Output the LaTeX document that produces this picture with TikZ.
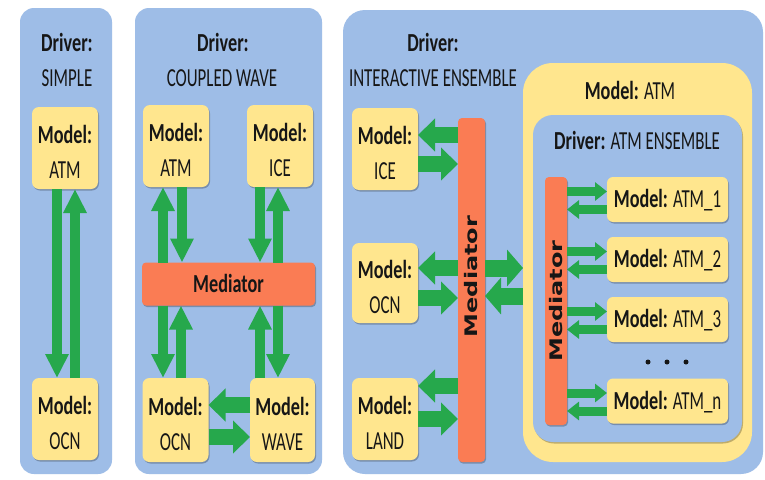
\documentclass[tikz,border=0pt]{standalone}
\usepackage{fontspec}
\usepackage{graphicx}
\setmainfont{Carlito}[FakeStretch=0.65]
\newfontfamily\bd{Carlito Bold}[FakeStretch=0.70]
\newfontfamily\medfont{DejaVu Sans Bold}
\newcommand\mb[1]{{\bd #1}}
\usetikzlibrary{arrows.meta,shadows}
\definecolor{panelblue}{RGB}{158,189,231}
\definecolor{boxyellow}{RGB}{255,230,142}
\definecolor{medorange}{RGB}{250,124,84}
\definecolor{arrowgreen}{RGB}{38,168,76}
\definecolor{inkdark}{RGB}{22,22,22}
\begin{document}
\begin{tikzpicture}[x=1pt,y=-1pt,
  every node/.style={inner sep=0pt, outer sep=0pt, text=inkdark},
  shadowed/.style={drop shadow={shadow xshift=1pt, shadow yshift=-1.5pt, opacity=0.25, fill=black}},
  panel/.style={fill=panelblue, rounded corners=14pt},
  title/.style={anchor=base, font=\fontsize{26}{30}\selectfont},
  modelbox/.style={fill=boxyellow, rounded corners=7pt, minimum width=66pt, minimum height=82pt,
    align=center, font=\fontsize{26}{35}\selectfont, text height=60.4pt, text depth=0pt, shadowed},
  atmbox/.style={fill=boxyellow, rounded corners=6pt, minimum width=121pt, minimum height=45pt,
    font=\fontsize{26}{30}\selectfont, text height=16.4pt, text depth=0pt, shadowed},
  medbar/.style={fill=medorange, rounded corners=4pt, shadowed},
  dot/.style={circle, fill=inkdark, minimum size=5pt},
  varrow/.style={draw=arrowgreen, line width=10pt, -{Triangle[length=24pt,width=22pt]}},
  harrow/.style={draw=arrowgreen, line width=16pt, -{Triangle[length=17pt,width=32pt]}},
  barrow/.style={draw=arrowgreen, line width=17pt, -{Triangle[length=16pt,width=36pt]}},
  sarrow/.style={draw=arrowgreen, line width=9pt, -{Triangle[length=12pt,width=18pt]}}]
\useasboundingbox[fill=white] (0,0) rectangle (765,479);

% panels
\node[panel, minimum width=92pt, minimum height=466pt] (p1) at (66,241) {};
\node[panel, minimum width=187pt, minimum height=466pt] (p2) at (228.5,241) {};
\node[panel, rounded corners=22pt, minimum width=420pt, minimum height=464pt] (p3) at (553,242) {};

% titles
\node[title] (d1) at (67,51.7) {\mb{Driver:}};
\node[title] (s1) at (67,86.7) {SIMPLE};
\node[title] (d2) at (223,51.7) {\mb{Driver:}};
\node[title] (s2) at (222,86.7) {COUPLED WAVE};
\node[title] (d3) at (433,51.7) {\mb{Driver:}};
\node[title] (s3) at (433,86.7) {INTERACTIVE ENSEMBLE};

% panel 1
\node[modelbox] (atmA) at (65,148) {\mb{Model:}\\ATM};
\node[modelbox] (ocnA) at (65,419) {\mb{Model:}\\OCN};

% panel 2
\node[modelbox] (atmB) at (176,146) {\mb{Model:}\\ATM};
\node[modelbox] (iceB) at (280,146) {\mb{Model:}\\ICE};
\node[medbar, minimum width=173pt, minimum height=43pt, font=\fontsize{26}{30}\selectfont,
  text height=16.4pt, text depth=0pt] (medB) at (228.5,284) {\mb{Mediator}};
\node[modelbox, minimum height=84pt] (ocnB) at (175.5,420) {\mb{Model:}\\OCN};
\node[modelbox, minimum width=65pt, minimum height=84pt] (wavB) at (282.5,420) {\mb{Model:}\\WAVE};

% panel 3
\node[modelbox] (iceC) at (385,149) {\mb{Model:}\\ICE};
\node[modelbox, minimum height=80pt] (ocnC) at (385,283) {\mb{Model:}\\OCN};
\node[modelbox] (lndC) at (385,419) {\mb{Model:}\\LAND};
\node[medbar, minimum width=27pt, minimum height=344pt] (medC) at (471.5,290)
  {\rotatebox{90}{\scalebox{1}[0.72]{\fontsize{24}{28}\medfont\hspace{27pt}Mediator}}};

\node[fill=boxyellow, rounded corners=30pt, minimum width=229pt, minimum height=399pt] (outer) at (637.5,262.5) {};
\node[panel, rounded corners=20pt, minimum width=209pt, minimum height=327pt, shadowed] (inner) at (637.5,278.5) {};
\node[title] (tm) at (630,99.7) {\mb{Model:} ATM};
\node[title] (td) at (637,149.2) {\mb{Driver:} ATM ENSEMBLE};
\node[medbar, minimum width=22pt, minimum height=248pt] (medI) at (556,301)
  {\rotatebox{90}{\scalebox{1}[0.72]{\fontsize{24}{28}\medfont Mediator}}};
\node[atmbox] (a1) at (667.5,199.5) {\mb{Model:} ATM\_1};
\node[atmbox] (a2) at (667.5,259.5) {\mb{Model:} ATM\_2};
\node[atmbox] (a3) at (667.5,319.5) {\mb{Model:} ATM\_3};
\node[atmbox] (a4) at (667.5,401) {\mb{Model:} ATM\_n};
\node[dot] (dt1) at (648,362) {};
\node[dot] (dt2) at (667,362) {};
\node[dot] (dt3) at (686,362) {};

% arrows panel 1
\draw[varrow] ([xshift=-8pt]atmA.south) -- ([xshift=-8pt]ocnA.north);
\draw[varrow] ([xshift=10pt]ocnA.north) -- ([xshift=10pt]atmA.south);

% arrows panel 2
\coordinate (u1) at ([xshift=-13pt]atmB.south);
\coordinate (u2) at ([xshift=6pt]atmB.south);
\coordinate (u3) at ([xshift=-20pt]iceB.south);
\coordinate (u4) at ([xshift=-2pt]iceB.south);
\draw[varrow] (u1 |- medB.north) -- (u1);
\draw[varrow] (u2) -- (u2 |- medB.north);
\draw[varrow] (u3) -- (u3 |- medB.north);
\draw[varrow] (u4 |- medB.north) -- (u4);
\coordinate (l1) at ([xshift=-12.5pt]ocnB.north);
\coordinate (l2) at ([xshift=5.5pt]ocnB.north);
\coordinate (l3) at ([xshift=-22.5pt]wavB.north);
\coordinate (l4) at ([xshift=-4.5pt]wavB.north);
\draw[varrow] (l1 |- medB.south) -- (l1);
\draw[varrow] (l2) -- (l2 |- medB.south);
\draw[varrow] (l3) -- (l3 |- medB.south);
\draw[varrow] (l4 |- medB.south) -- (l4);
\draw[harrow] ([yshift=15pt]wavB.west) -- ([yshift=15pt]ocnB.east);
\draw[harrow] ([yshift=-17pt]ocnB.east) -- ([yshift=-17pt]wavB.west);

% arrows panel 3
\coordinate (h1) at ([yshift=14pt]iceC.east);
\coordinate (h2) at ([yshift=-15pt]iceC.east);
\coordinate (h3) at ([yshift=15pt]ocnC.east);
\coordinate (h4) at ([yshift=-15pt]ocnC.east);
\coordinate (h5) at ([yshift=33pt]lndC.east);
\coordinate (h6) at ([yshift=0pt]lndC.east);
\draw[harrow] (h1 -| medC.west) -- (h1);
\draw[harrow] (h2) -- (h2 -| medC.west);
\draw[harrow] (h3 -| medC.west) -- (h3);
\draw[harrow] (h4) -- (h4 -| medC.west);
\draw[harrow] (h5 -| medC.west) -- (h5);
\draw[harrow] (h6) -- (h6 -| medC.west);
\coordinate (m1) at ([yshift=15pt]ocnC.east);
\coordinate (m2) at ([yshift=-13pt]ocnC.east);
\draw[barrow] (m1 -| medC.east) -- (m1 -| outer.west);
\draw[barrow] (m2 -| outer.west) -- (m2 -| medC.east);

\foreach \k in {a1,a2,a3,a4} {
  \coordinate (r\k) at ([yshift=8pt]\k.west);
  \coordinate (q\k) at ([yshift=-10pt]\k.west);
  \draw[sarrow] (r\k -| medI.east) -- (r\k);
  \draw[sarrow] (q\k) -- (q\k -| medI.east);
}
\end{tikzpicture}
\end{document}
